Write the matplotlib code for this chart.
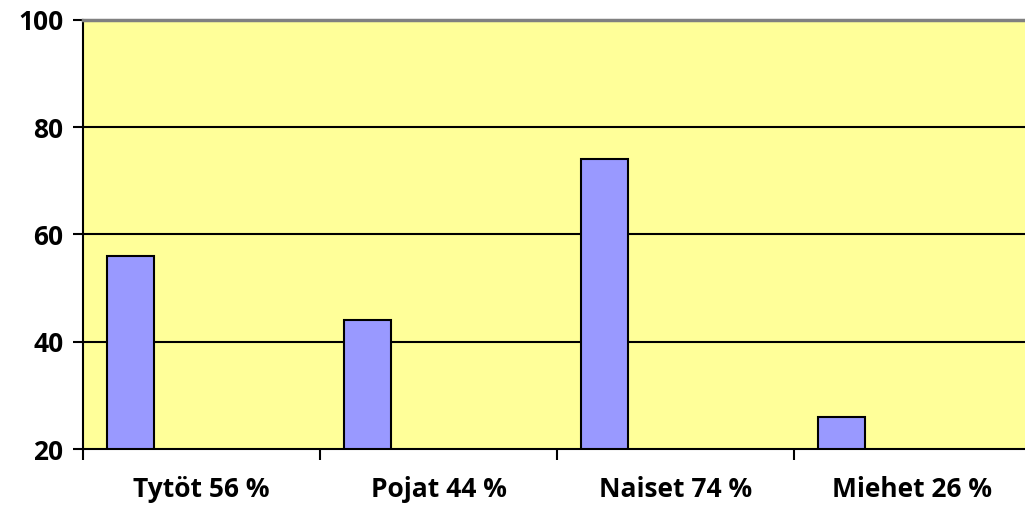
import matplotlib.pyplot as plt
import numpy as np

categories = ['Tytöt 56 %', 'Pojat 44 %', 'Naiset 74 %', 'Miehet 26 %']
values = [56, 44, 74, 26]
yticks = [20, 40, 60, 80, 100]

plt.rcParams['font.family'] = ['Open Sans', 'DejaVu Sans']

fig = plt.figure(figsize=(10.25, 5.13), dpi=100)
# plot area in pixels: left 83, top 20, bottom 449, runs off the right edge
ax = fig.add_axes([83 / 1025, (513 - 449) / 513, 942 / 1025, 429 / 513])
ax.set_facecolor('#FFFF99')

x = np.arange(len(categories))
bar_w = 47 / 237
ax.bar(x + 24 / 237, np.array(values) - 20, bottom=20, width=bar_w, align='edge',
       color='#9999FF', edgecolor='black', linewidth=1.5, zorder=3)

ax.set_xlim(0, 942 / 237)
ax.set_ylim(20, 100)

# horizontal gridlines
for y in [40, 60, 80]:
    ax.axhline(y, color='black', linewidth=1.5, zorder=1)

ax.set_yticks(yticks)
ax.set_yticklabels([str(t) for t in yticks], fontsize=19, fontweight='bold')
ax.set_xticks(np.arange(0, 4))
ax.set_xticklabels([])
ax.tick_params(axis='y', direction='out', length=7, width=1.5, pad=7)
ax.tick_params(axis='x', direction='out', length=8, width=1.5)

for i, lab in enumerate(categories):
    ax.text(i + 0.5, -0.095, lab, transform=ax.get_xaxis_transform(),
            ha='center', va='center', fontsize=19, fontweight='bold')

ax.spines['top'].set_color('#808080')
ax.spines['top'].set_linewidth(2.5)
ax.spines['right'].set_visible(False)
ax.spines['left'].set_linewidth(1.5)
ax.spines['bottom'].set_linewidth(1.5)

fig.savefig('out.png', dpi=100)
